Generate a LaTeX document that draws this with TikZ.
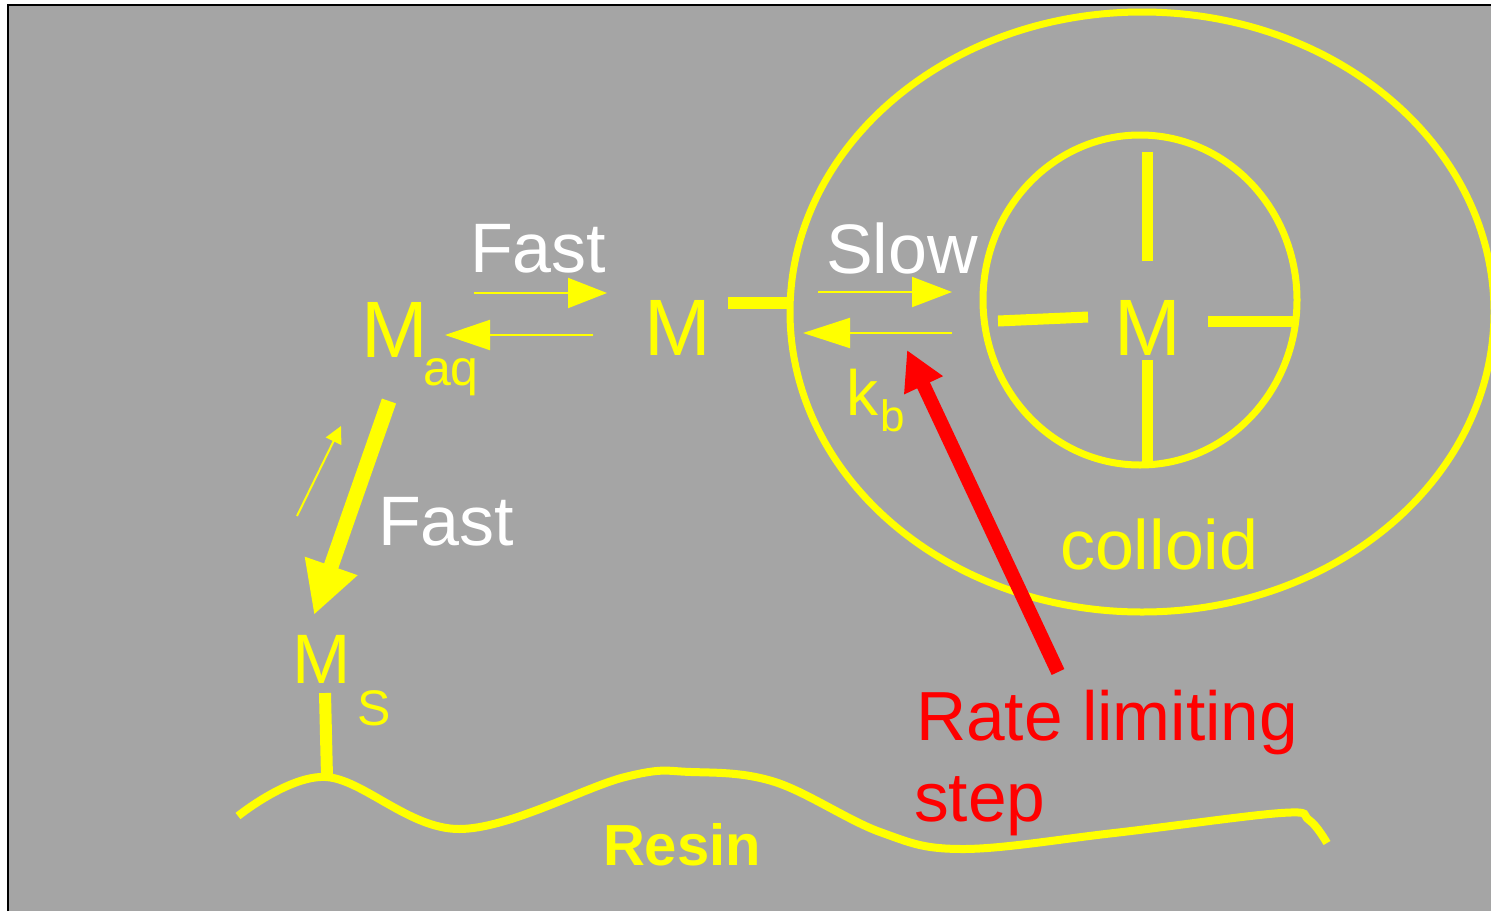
\documentclass[tikz,border=0pt]{standalone}
\usepackage{fontspec}
\setmainfont{Liberation Sans}
\usetikzlibrary{arrows.meta}
\definecolor{bg}{HTML}{A5A5A5}
\definecolor{yel}{HTML}{FFFF00}
\definecolor{redc}{HTML}{FF0000}
\begin{document}
\begin{tikzpicture}[x=1pt,y=-1pt,
  lbl/.style={anchor=base west, inner sep=0pt, outer sep=0pt, text=yel},
  big/.style={font=\fontsize{80}{82}\selectfont},
  mid/.style={font=\fontsize{70}{72}\selectfont},
  sub/.style={font=\fontsize{50}{52}\selectfont},
  thinarrow/.style={draw=yel, line width=2pt},
  ybar/.style={draw=yel, line width=12pt},
  yring/.style={draw=yel, line width=7pt}]
\useasboundingbox (0,0) rectangle (1491,911);
\fill[white] (0,0) rectangle (1491,911);
\fill[bg] (8,5) rectangle (1491,911);
\draw[black, line width=2.5pt] (8,911) -- (8,5) -- (1491,5);

% colloid
\draw[yring] (1142,312) ellipse [x radius=352, y radius=300];
\draw[yring] (1140,300) ellipse [x radius=157, y radius=165];
\coordinate (ct1) at (1147,152); \coordinate (ct2) at (1147,261);
\coordinate (cb1) at (1147,360); \coordinate (cb2) at (1147,465);
\coordinate (cl1) at (998,321); \coordinate (cl2) at (1088,317);
\coordinate (cr1) at (1208,321); \coordinate (cr2) at (1298,321);
\draw[ybar, line width=11pt] (ct1) -- (ct2);
\draw[ybar, line width=11pt] (cb1) -- (cb2);
\draw[ybar, line width=11pt] (cl1) -- (cl2);
\draw[ybar, line width=11pt] (cr1) -- (cr2);

% stub from M to colloid
\coordinate (s1) at (728,303); \coordinate (s2) at (792,303);
\draw[ybar] (s1) -- (s2);

% texts
\node[lbl, big] (maq) at (361,357) {M};
\node[lbl, sub] (aq) at (423,385) {aq};
\node[lbl, big] (m) at (644,355) {M};
\node[lbl, big] (mc) at (1114,355) {M};
\node[lbl, mid, text=white] (fast1) at (470,272) {Fast};
\node[lbl, mid, text=white] (slow) at (826,273) {Slow};
\node[lbl, font=\fontsize{64}{66}\selectfont] (k) at (846,415) {k};
\node[lbl, font=\fontsize{44}{46}\selectfont] (b) at (880,431) {b};
\node[lbl, mid, text=white] (fast2) at (378,545) {Fast};
\node[lbl, font=\fontsize{70}{72}\selectfont] (ms) at (292,683) {M};
\node[lbl, sub] (s) at (357,725) {S};
\node[lbl, mid] (colloid) at (1060,569) {colloid};
\node[lbl, font=\fontsize{69.5}{71}\selectfont, text=redc] (rate) at (916,740) {Rate limiting};
\node[lbl, font=\fontsize{69.5}{71}\selectfont, text=redc] (step) at (914,821) {step};
\node[lbl, font=\fontsize{58}{60}\selectfont\bfseries] (resin) at (603,865) {Resin};

% horizontal arrows
\coordinate (f1a) at (474,293); \coordinate (f1b) at (607,293);
\coordinate (f2a) at (593,335); \coordinate (f2b) at (445,335);
\coordinate (s1a) at (818,292); \coordinate (s1b) at (952,292);
\coordinate (s2a) at (952,333); \coordinate (s2b) at (803,333);
\draw[thinarrow, -{Triangle[length=39pt,width=30pt]}] (f1a) -- (f1b);
\draw[thinarrow, -{Triangle[length=45pt,width=30pt]}] (f2a) -- (f2b);
\draw[thinarrow, -{Triangle[length=40pt,width=30pt]}] (s1a) -- (s1b);
\draw[thinarrow, -{Triangle[length=47pt,width=30pt]}] (s2a) -- (s2b);

% vertical-ish arrows
\coordinate (da) at (389,401); \coordinate (db) at (314,615);
\draw[yel, line width=15pt, -{Triangle[length=52pt,width=52pt]}] (da) -- (db);
\coordinate (ua) at (297,516); \coordinate (ub) at (341,426);
\draw[thinarrow, -{Triangle[length=17pt,width=17pt]}] (ua) -- (ub);

% red arrow
\coordinate (ra) at (1058,672); \coordinate (rb) at (907,350);
\draw[redc, line width=14pt, -{Triangle[length=39pt,width=40pt]}] (ra) -- (rb);

% resin surface
\draw[yel, line width=8pt] plot[smooth, tension=0.6] coordinates {(238,816) (326,777) (459,829) (625,777) (691,772) (775,782) (880,832) (962,849) (1114,833) (1281,813) (1309,820) (1327,843)};
\coordinate (ms1) at (325,693); \coordinate (ms2) at (327,777);
\draw[ybar] (ms1) -- (ms2);
\end{tikzpicture}
\end{document}
